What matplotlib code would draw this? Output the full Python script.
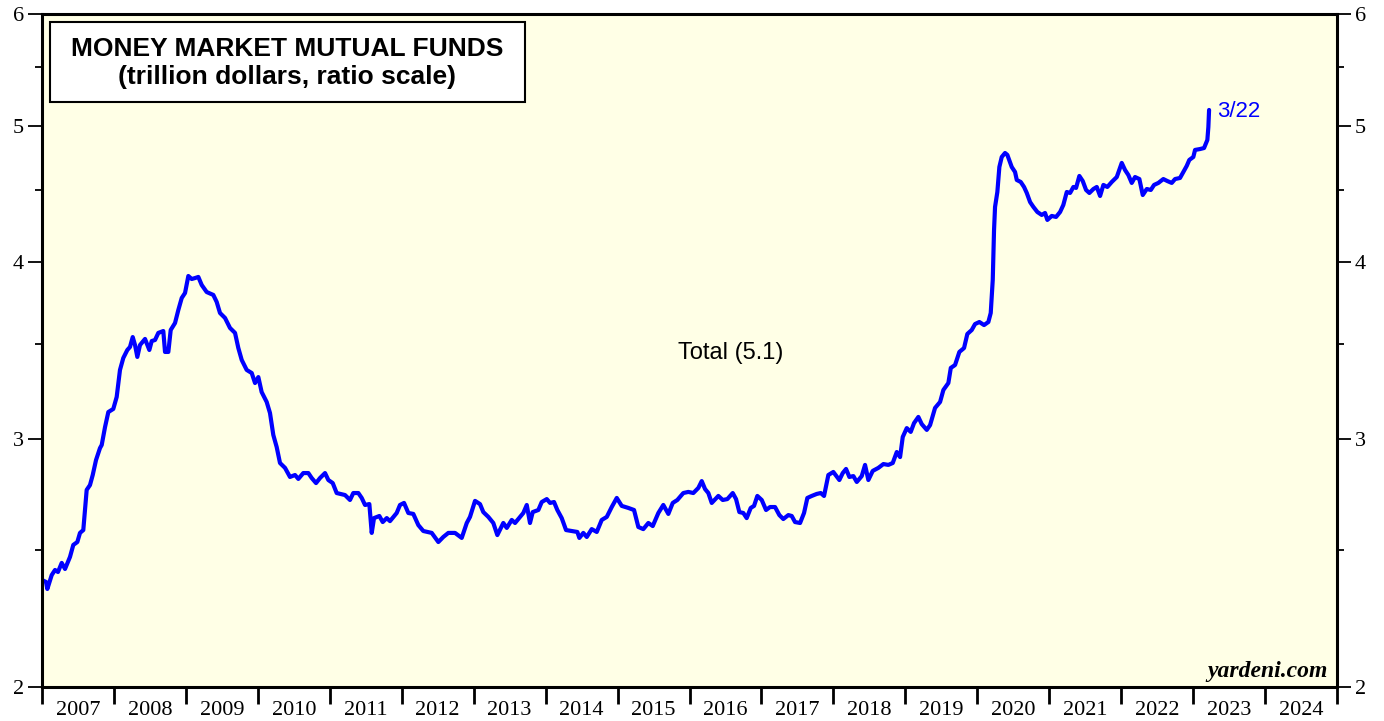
import matplotlib
matplotlib.use("Agg")
import matplotlib.pyplot as plt
import matplotlib.ticker as mtick
import matplotlib.patches as mpatches

# Money market mutual funds, trillion dollars (weekly-ish readings)
dates = [
    2007.000, 2007.056, 2007.074, 2007.135, 2007.181, 2007.222, 2007.274, 2007.320,
    2007.389, 2007.435, 2007.491, 2007.528, 2007.574, 2007.621, 2007.667, 2007.705,
    2007.751, 2007.806, 2007.830, 2007.876, 2007.922, 2007.991, 2008.038, 2008.084,
    2008.130, 2008.186, 2008.223, 2008.261, 2008.293, 2008.325, 2008.362, 2008.432,
    2008.492, 2008.525, 2008.571, 2008.617, 2008.686, 2008.710, 2008.756, 2008.789,
    2008.849, 2008.895, 2008.942, 2008.988, 2009.034, 2009.081, 2009.127, 2009.173,
    2009.220, 2009.289, 2009.381, 2009.428, 2009.474, 2009.544, 2009.613, 2009.683,
    2009.729, 2009.776, 2009.845, 2009.915, 2009.961, 2010.007, 2010.053, 2010.123,
    2010.169, 2010.215, 2010.262, 2010.308, 2010.378, 2010.447, 2010.517, 2010.563,
    2010.632, 2010.702, 2010.749, 2010.809, 2010.864, 2010.934, 2010.980, 2011.041,
    2011.096, 2011.212, 2011.281, 2011.327, 2011.397, 2011.444, 2011.490, 2011.550,
    2011.583, 2011.615, 2011.689, 2011.736, 2011.792, 2011.837, 2011.930, 2011.976,
    2012.032, 2012.092, 2012.161, 2012.231, 2012.300, 2012.417, 2012.509, 2012.578,
    2012.648, 2012.741, 2012.834, 2012.904, 2012.949, 2013.019, 2013.088, 2013.134,
    2013.204, 2013.273, 2013.329, 2013.412, 2013.460, 2013.529, 2013.575, 2013.645,
    2013.690, 2013.738, 2013.783, 2013.821, 2013.899, 2013.946, 2014.016, 2014.062,
    2014.117, 2014.163, 2014.224, 2014.284, 2014.363, 2014.441, 2014.469, 2014.524,
    2014.572, 2014.641, 2014.711, 2014.780, 2014.850, 2014.919, 2014.989, 2015.058,
    2015.150, 2015.229, 2015.289, 2015.358, 2015.428, 2015.489, 2015.567, 2015.636,
    2015.706, 2015.767, 2015.831, 2015.914, 2015.984, 2016.053, 2016.123, 2016.170,
    2016.216, 2016.262, 2016.309, 2016.401, 2016.462, 2016.526, 2016.601, 2016.647,
    2016.693, 2016.748, 2016.795, 2016.851, 2016.897, 2016.943, 2017.004, 2017.064,
    2017.120, 2017.189, 2017.249, 2017.304, 2017.374, 2017.421, 2017.467, 2017.537,
    2017.592, 2017.638, 2017.699, 2017.769, 2017.824, 2017.870, 2017.930, 2017.999,
    2018.083, 2018.130, 2018.176, 2018.222, 2018.278, 2018.325, 2018.394, 2018.440,
    2018.486, 2018.547, 2018.625, 2018.695, 2018.764, 2018.825, 2018.881, 2018.927,
    2018.964, 2019.020, 2019.075, 2019.121, 2019.181, 2019.228, 2019.298, 2019.344,
    2019.413, 2019.483, 2019.529, 2019.598, 2019.632, 2019.691, 2019.751, 2019.816,
    2019.862, 2019.923, 2019.969, 2020.029, 2020.094, 2020.154, 2020.187, 2020.215,
    2020.233, 2020.247, 2020.279, 2020.307, 2020.340, 2020.386, 2020.418, 2020.479,
    2020.525, 2020.549, 2020.604, 2020.650, 2020.688, 2020.734, 2020.780, 2020.835,
    2020.896, 2020.942, 2020.974, 2021.035, 2021.095, 2021.151, 2021.196, 2021.244,
    2021.290, 2021.336, 2021.373, 2021.419, 2021.466, 2021.512, 2021.558, 2021.614,
    2021.661, 2021.707, 2021.753, 2021.808, 2021.869, 2021.939, 2022.008, 2022.054,
    2022.100, 2022.147, 2022.193, 2022.253, 2022.300, 2022.356, 2022.412, 2022.457,
    2022.517, 2022.586, 2022.642, 2022.703, 2022.749, 2022.818, 2022.856, 2022.911,
    2022.947, 2023.003, 2023.027, 2023.096, 2023.152, 2023.198, 2023.212, 2023.222,
]
total = [
    2.382, 2.374, 2.347, 2.401, 2.421, 2.413, 2.449, 2.425,
    2.473, 2.522, 2.534, 2.572, 2.584, 2.759, 2.781, 2.827,
    2.897, 2.954, 2.969, 3.057, 3.133, 3.149, 3.211, 3.356,
    3.422, 3.467, 3.484, 3.541, 3.495, 3.428, 3.495, 3.530,
    3.467, 3.518, 3.524, 3.565, 3.576, 3.456, 3.456, 3.582,
    3.623, 3.701, 3.774, 3.805, 3.912, 3.893, 3.899, 3.906,
    3.855, 3.811, 3.793, 3.750, 3.683, 3.653, 3.594, 3.565,
    3.478, 3.411, 3.356, 3.339, 3.285, 3.317, 3.237, 3.185,
    3.128, 3.018, 2.959, 2.883, 2.860, 2.818, 2.827, 2.809,
    2.836, 2.836, 2.813, 2.790, 2.813, 2.836, 2.804, 2.790,
    2.745, 2.736, 2.714, 2.745, 2.745, 2.723, 2.692, 2.696,
    2.572, 2.635, 2.644, 2.618, 2.635, 2.622, 2.657, 2.692,
    2.701, 2.657, 2.653, 2.605, 2.580, 2.572, 2.534, 2.555,
    2.572, 2.572, 2.551, 2.614, 2.640, 2.710, 2.696, 2.661,
    2.640, 2.614, 2.563, 2.614, 2.593, 2.627, 2.614, 2.640,
    2.657, 2.692, 2.614, 2.661, 2.670, 2.705, 2.718, 2.701,
    2.705, 2.670, 2.635, 2.584, 2.580, 2.576, 2.551, 2.572,
    2.555, 2.588, 2.576, 2.627, 2.640, 2.683, 2.723, 2.688,
    2.679, 2.670, 2.597, 2.588, 2.614, 2.601, 2.657, 2.692,
    2.653, 2.701, 2.714, 2.745, 2.750, 2.745, 2.768, 2.799,
    2.763, 2.745, 2.701, 2.732, 2.714, 2.718, 2.745, 2.718,
    2.661, 2.657, 2.635, 2.679, 2.688, 2.732, 2.714, 2.670,
    2.683, 2.683, 2.648, 2.631, 2.648, 2.644, 2.618, 2.614,
    2.657, 2.723, 2.732, 2.741, 2.745, 2.732, 2.827, 2.841,
    2.804, 2.836, 2.855, 2.818, 2.822, 2.795, 2.822, 2.874,
    2.804, 2.846, 2.860, 2.878, 2.874, 2.883, 2.935, 2.911,
    3.008, 3.052, 3.033, 3.077, 3.108, 3.072, 3.043, 3.067,
    3.154, 3.185, 3.248, 3.285, 3.367, 3.383, 3.456, 3.478,
    3.559, 3.582, 3.617, 3.629, 3.611, 3.629, 3.683, 3.887,
    4.217, 4.379, 4.487, 4.674, 4.751, 4.782, 4.767, 4.674,
    4.636, 4.576, 4.561, 4.524, 4.480, 4.414, 4.379, 4.343,
    4.322, 4.336, 4.287, 4.315, 4.308, 4.343, 4.393, 4.487,
    4.480, 4.524, 4.517, 4.606, 4.568, 4.502, 4.480, 4.509,
    4.524, 4.458, 4.539, 4.524, 4.561, 4.598, 4.705, 4.651,
    4.613, 4.554, 4.598, 4.583, 4.465, 4.509, 4.502, 4.539,
    4.554, 4.583, 4.568, 4.554, 4.583, 4.591, 4.628, 4.682,
    4.728, 4.751, 4.806, 4.813, 4.821, 4.885, 4.989, 5.130,
]

years = list(range(2007, 2026))
year_labels = [str(y) for y in range(2007, 2025)]
y_major = [2, 3, 4, 5, 6]
y_minor = [2.5, 3.5, 4.5, 5.5]

fig = plt.figure(figsize=(13.84, 7.21), dpi=100)
ax = fig.add_axes([42 / 1384, 34 / 721, 1295 / 1384, 673 / 721])
ax.set_facecolor("#FFFFE6")

ax.plot(dates, total, color="#0000FF", lw=3.0, solid_joinstyle="round",
        solid_capstyle="round")

ax.set_yscale("log")
ax.set_ylim(2, 6)
ax.set_xlim(2007, 2025)

# y axis on both sides, Times-like labels
ax.yaxis.set_major_locator(mtick.FixedLocator(y_major))
ax.yaxis.set_major_formatter(mtick.FixedFormatter([str(v) for v in y_major]))
ax.yaxis.set_minor_locator(mtick.FixedLocator(y_minor))
ax.yaxis.set_minor_formatter(mtick.NullFormatter())
ax.tick_params(axis="y", which="major", length=10, width=1.3, direction="out",
               left=True, right=True, labelleft=True, labelright=True,
               labelsize=16, pad=3)
ax.tick_params(axis="y", which="minor", length=5, width=1.3, direction="out",
               left=True, right=True)

# x axis: ticks at year boundaries, labels centred in each year
ax.xaxis.set_major_locator(mtick.FixedLocator(years))
ax.xaxis.set_major_formatter(mtick.NullFormatter())
ax.xaxis.set_minor_locator(mtick.FixedLocator([y + 0.5 for y in range(2007, 2025)]))
ax.xaxis.set_minor_formatter(mtick.FixedFormatter(year_labels))
ax.tick_params(axis="x", which="major", length=12, width=2, direction="out")
ax.tick_params(axis="x", which="minor", length=0, labelsize=16, pad=10)

for t in ax.yaxis.get_major_ticks():
    t.label1.set_fontfamily("Liberation Serif")
    t.label2.set_fontfamily("Liberation Serif")
for t in ax.xaxis.get_minor_ticks():
    t.label1.set_fontfamily("Liberation Serif")

for sp in ax.spines.values():
    sp.set_linewidth(2.2)
    sp.set_color("black")

# title box
box = mpatches.Rectangle((8 / 1295, 585 / 673), 475 / 1295, 80 / 673,
                         transform=ax.transAxes, facecolor="white",
                         edgecolor="black", linewidth=1.5, zorder=3)
ax.add_patch(box)
ax.text(245.5 / 1295, 624 / 673, "MONEY MARKET MUTUAL FUNDS\n(trillion dollars, ratio scale)",
        transform=ax.transAxes, ha="center", va="center", fontsize=19,
        fontweight="bold", family="Liberation Sans", linespacing=1.2, zorder=4)

ax.text(2023.33, 5.12, "3/22", color="#0000FF", fontsize=16,
        family="Liberation Sans", ha="left", va="center")
ax.text(2016.57, 3.45, "Total (5.1)", fontsize=17, family="Liberation Sans",
        ha="center", va="center")
ax.text(0.993, 0.008, "yardeni.com", transform=ax.transAxes, ha="right",
        va="bottom", fontsize=17, fontweight="bold", fontstyle="italic",
        family="Liberation Serif")

fig.savefig("out.png", dpi=100)
